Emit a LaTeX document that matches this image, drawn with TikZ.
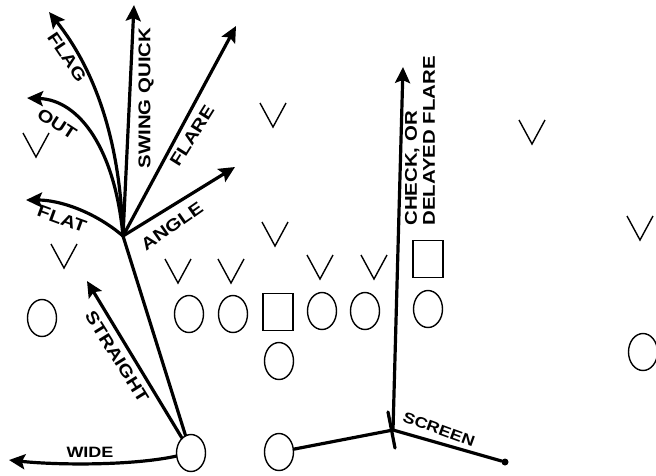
\documentclass[tikz,border=0pt]{standalone}
\usepackage{fontspec}
\newfontfamily\routefont[FakeStretch=1.2]{Liberation Sans}
\usetikzlibrary{shapes.geometric, arrows.meta}

\tikzset{
  player/.style={draw, ellipse, line width=1.4pt, minimum width=29pt, minimum height=37pt, inner sep=0pt},
  snapper/.style={draw, rectangle, line width=1.4pt, minimum width=30pt, minimum height=37pt, inner sep=0pt},
  route/.style={line width=3.2pt, line cap=round, line join=round},
  routetip/.style={route, -{Stealth[length=16pt, width=15pt, inset=3pt]}},
  routelabel/.style={font=\routefont\bfseries\fontsize{17}{18}\selectfont, inner sep=1pt},
  defender/.pic={\draw[line width=1.4pt] (-13,-12) -- (0,12) -- (13,-12);}
}

\begin{document}
\begin{tikzpicture}[x=1pt, y=-1pt]
\useasboundingbox (0,0) rectangle (656,475);

% defence
\foreach \dx/\dy [count=\i] in {36/145, 64/256, 273/115, 275/234, 178/271, 231/271, 320/267, 374/267, 532/132, 640/228}
  \pic (d\i) at (\dx,\dy) {defender};

% offence
\node[player] (le) at (42,318) {};
\node[player] (lt) at (189,314) {};
\node[player] (lg) at (233,314) {};
\node[snapper] (ce) at (278,312) {};
\node[player] (rg) at (322,311) {};
\node[player] (rt) at (365,311) {};
\node[player] (te) at (428,309) {};
\node[snapper] (wing) at (428,259) {};
\node[player] (qb) at (279,361) {};
\node[player] (hb) at (191,453) {};
\node[player] (fb) at (279,452) {};
\node[player] (re) at (643,352) {};

% halfback routes
\coordinate (fork) at (123,236);
\coordinate (flattip) at (26,200);
\coordinate (outtip) at (27,98);
\coordinate (flagtip) at (49,12);
\coordinate (swingtip) at (134,5);
\coordinate (flaretip) at (236,26);
\coordinate (angletip) at (235,167);
\coordinate (straighttip) at (87,281);
\coordinate (widetip) at (9,460);

\draw[route] (hb) -- (fork);
\draw[routetip] (fork) .. controls (95,212) and (60,200) .. (flattip);
\draw[routetip] (fork) .. controls (115,150) and (80,100) .. (outtip);
\draw[routetip] (fork) .. controls (120,140) and (95,70) .. (flagtip);
\draw[routetip] (fork) -- (swingtip);
\draw[routetip] (fork) -- (flaretip);
\draw[routetip] (fork) -- (angletip);
\draw[routetip] (hb) -- (straighttip);
\draw[routetip] (hb) .. controls (130,466) and (55,465) .. (widetip);

% fullback routes
\coordinate (screenpt) at (393,430);
\coordinate (ticktop) at (388,412);
\coordinate (tickbot) at (395,448);
\coordinate (checktip) at (403,67);
\node[circle, fill, inner sep=0pt, minimum size=7pt] (screenend) at (505,462) {};
\draw[route] (fb) -- (screenpt) -- (screenend);
\draw[route] (ticktop) -- (tickbot);
\draw[routetip] (screenpt) -- (checktip);

% labels
\node[routelabel, rotate=-56] (flaglbl) at (67,57) {FLAG};
\node[routelabel, rotate=-33] (outlbl) at (57,124) {OUT};
\node[routelabel, rotate=-20] (flatlbl) at (62,219) {FLAT};
\node[routelabel, rotate=90] (swinglbl) at (146,98) {SWING QUICK};
\node[routelabel, rotate=58] (flarelbl) at (192,136) {FLARE};
\node[routelabel, rotate=35] (anglelbl) at (172,226) {ANGLE};
\node[routelabel, rotate=-58] (straightlbl) at (117,357) {STRAIGHT};
\node[routelabel, font=\routefont\bfseries\fontsize{15}{16}\selectfont] (widelbl) at (90,452) {WIDE};
\node[routelabel, rotate=-20, font=\routefont\bfseries\fontsize{15}{16}\selectfont] (screenlbl) at (439,429) {SCREEN};
\node[routelabel, rotate=90, align=left] (checklbl) at (420,141) {CHECK, OR\\DELAYED FLARE};
\end{tikzpicture}
\end{document}
